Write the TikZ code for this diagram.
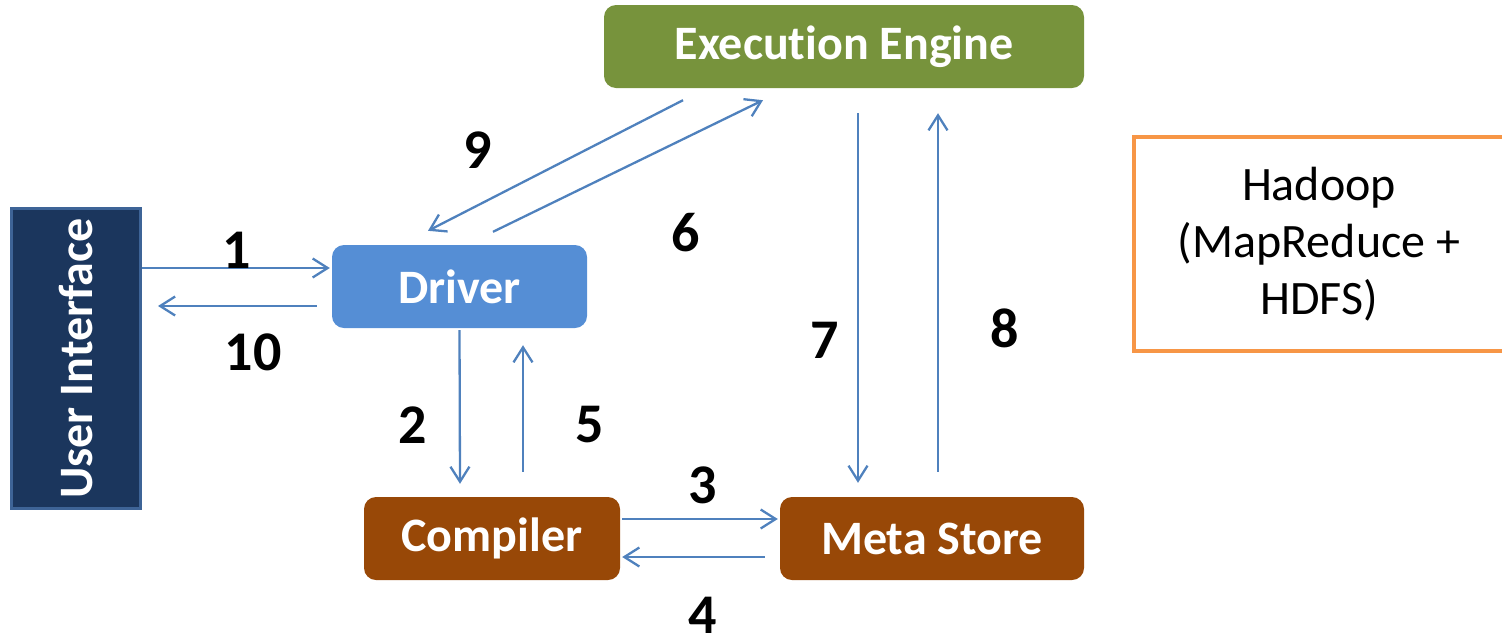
\documentclass[tikz,border=0pt]{standalone}
\usepackage{fontspec}
\setmainfont{Carlito}[Ligatures=NoCommon]
\usetikzlibrary{arrows.meta}

\definecolor{uiblue}{HTML}{1B365D}
\definecolor{uiedge}{HTML}{3E6497}
\definecolor{driverblue}{HTML}{558ED5}
\definecolor{enginegreen}{HTML}{77933C}
\definecolor{storebrown}{HTML}{984807}
\definecolor{flowblue}{HTML}{4F81BD}
\definecolor{hadooporange}{HTML}{F79646}

\tikzset{
    block/.style={rounded corners=12pt, minimum height=83pt, inner sep=0pt,
        text=white, font=\bfseries\fontsize{48}{52}\selectfont},
    flow/.style={draw=flowblue, line width=2.3pt, -{Straight Barb[length=15pt,width=19pt]}},
    num/.style={inner sep=0pt, font=\bfseries\fontsize{56}{60}\selectfont}
}

\begin{document}
\begin{tikzpicture}[x=1pt, y=-1pt]
    \useasboundingbox (0,0) rectangle (1502,638);
    % boxes
    \node [draw=uiedge, fill=uiblue, line width=3pt, minimum width=129pt, minimum height=300pt] (ui) at (76,358.5) {};
    \node [rotate=90, text=white, font=\bfseries\fontsize{48}{52}\selectfont] (uitext) at (ui.center) {User Interface};
    \node [block, fill=driverblue, minimum width=255pt] (driver) at (459.5,286.5) {Driver};
    \node [block, fill=enginegreen, minimum width=480pt] (engine) at (844,46.5) {Execution Engine};
    \node [block, fill=storebrown, minimum width=256pt] (compiler) at (492,538.5) {Compiler};
    \node [block, fill=storebrown, minimum width=304pt] (meta) at (932,538.5) {Meta Store};
    \node [draw=hadooporange, line width=4pt, minimum width=370pt, minimum height=214pt, align=center,
        font=\fontsize{48}{57}\selectfont] (hadoop) at (1319,244) {Hadoop\\(MapReduce +\\HDFS)};
    % arrows
    \draw [flow] ([yshift=90.5pt]ui.east) -- ([yshift=18.5pt, xshift=-2pt]driver.west);
    \draw [flow] ([yshift=-19.5pt, xshift=-15pt]driver.west) -- ([yshift=52.5pt, xshift=16pt]ui.east);
    \draw [flow] ([yshift=-2pt]driver.south) -- ([xshift=-32pt, yshift=13pt]compiler.north);
    \draw [flow] ([xshift=31pt, yshift=25pt]compiler.north) -- ([xshift=63.5pt, yshift=-17pt]driver.south);
    \draw [flow] ([yshift=19.5pt, xshift=2pt]compiler.east) -- ([yshift=19.5pt, xshift=-2pt]meta.west);
    \draw [flow] ([yshift=-18.5pt, xshift=-15pt]meta.west) -- ([yshift=-18.5pt, xshift=2pt]compiler.east);
    \draw [flow] ([xshift=14pt, yshift=-25pt]engine.south) -- ([xshift=-74pt, yshift=14pt]meta.north);
    \draw [flow] ([xshift=6pt, yshift=25pt]meta.north) -- ([xshift=94pt, yshift=-25pt]engine.south);
    \draw [flow] ([xshift=-161pt, yshift=-12pt]engine.south) -- ([xshift=-31.5pt, yshift=14pt]driver.north);
    \draw [flow] ([xshift=33.5pt, yshift=13pt]driver.north) -- ([xshift=-81pt, yshift=-12pt]engine.south);
    % step numbers
    \node [num] (n1) at (237,250) {1};
    \node [num] (n2) at (413,425) {2};
    \node [num] (n3) at (703,485) {3};
    \node [num] (n4) at (703,615) {4};
    \node [num] (n5) at (590,425) {5};
    \node [num] (n6) at (686,233) {6};
    \node [num] (n7) at (825,340) {7};
    \node [num] (n8) at (1005,328) {8};
    \node [num] (n9) at (478,150) {9};
    \node [num] (n10) at (253,352) {10};
\end{tikzpicture}
\end{document}
